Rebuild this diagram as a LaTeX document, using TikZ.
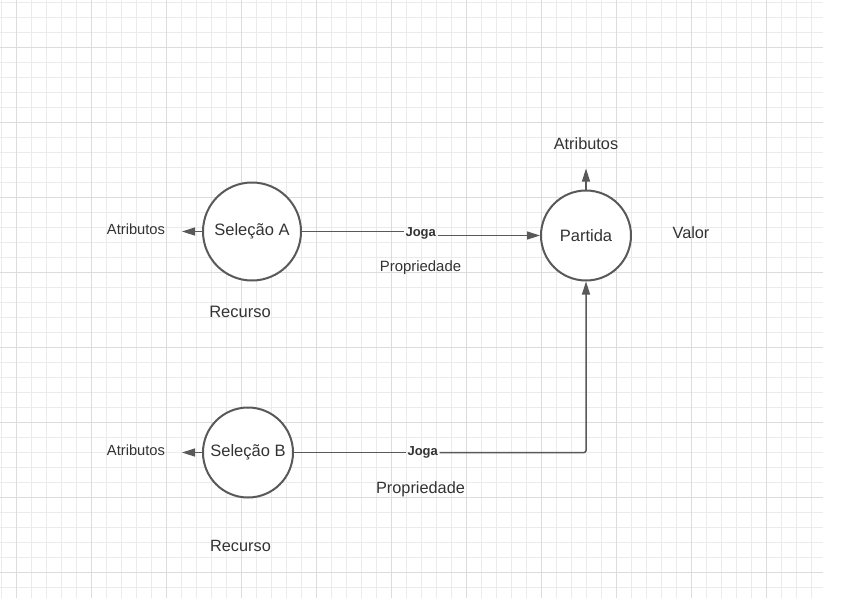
\documentclass[tikz,border=0pt]{standalone}
\usepackage{fontspec}
\setmainfont{Liberation Sans}
\usetikzlibrary{arrows.meta}
\definecolor{gridminor}{HTML}{EBEBEB}
\definecolor{gridmajor}{HTML}{DCDCDC}
\definecolor{ink}{HTML}{595959}
\definecolor{txt}{HTML}{333333}
\tikzset{
  circ/.style={circle,draw=ink,line width=2pt,fill=white,inner sep=0pt,text=txt,font=\fontsize{16.5}{19}\selectfont},
  conn/.style={draw=ink,line width=1.5pt},
  arr/.style={conn,-{Triangle[length=13pt,width=8pt]}},
  lbl/.style={text=txt,inner sep=0pt,font=\fontsize{16.3}{19}\selectfont},
  smalllbl/.style={text=txt,inner sep=0pt,font=\fontsize{14.7}{17}\selectfont},
  joga/.style={text=txt,inner sep=1.5pt,font=\fontsize{13}{15}\selectfont\bfseries}
}
\begin{document}
\begin{tikzpicture}[x=1pt,y=-1pt]
\useasboundingbox (0,0) rectangle (844,606);
\fill[white] (0,0) rectangle (844,606);
% grid
\foreach \i in {0,...,54} {
  \pgfmathsetmacro{\xx}{1+15*\i}
  \draw[gridminor,line width=1pt] (\xx,0) -- (\xx,598);
}
\foreach \i in {0,...,39} {
  \pgfmathsetmacro{\yy}{2+15*\i}
  \draw[gridminor,line width=1pt] (0,\yy) -- (823,\yy);
}
\foreach \i in {0,...,10} {
  \pgfmathsetmacro{\xx}{16+75*\i}
  \draw[gridmajor,line width=1pt] (\xx,0) -- (\xx,598);
}
\foreach \i in {0,...,7} {
  \pgfmathsetmacro{\yy}{47+75*\i}
  \draw[gridmajor,line width=1pt] (0,\yy) -- (823,\yy);
}
% nodes
\node[circ,minimum size=98pt] (A) at (252,231.5) {Seleção A};
\node[circ,minimum size=90pt] (P) at (586,235.5) {Partida};
\node[circ,minimum size=90pt] (B) at (248,452.5) {Seleção B};

\node[smalllbl] (attA) at (136,229.5) {Atributos};
\node[smalllbl] (attB) at (136,450.5) {Atributos};
\node[lbl] (attP) at (586,143.5) {Atributos};
\node[lbl] (valor) at (691,233) {Valor};
\node[smalllbl,font=\fontsize{14.9}{17}\selectfont] (propA) at (420.5,267.5) {Propriedade};
\node[lbl] (propB) at (420.5,489.5) {Propriedade};
\node[lbl,font=\fontsize{16.5}{19}\selectfont] (recA) at (240,312) {Recurso};
\node[lbl] (recB) at (240.5,546) {Recurso};
\node[joga] (jogaA) at (420.7,233.5) {Joga};
\node[joga] (jogaB) at (422.7,452.5) {Joga};

\coordinate (tipA) at (182,231.5);
\coordinate (tipB) at (182,452.5);
\coordinate (tipP) at (586,168.5);

% connectors
\draw[arr] (A.west) -- (tipA);
\draw[arr] (B.west) -- (tipB);
\draw[arr] (P.north) -- (tipP);
\draw[conn] (A.east) -- (A.east -| jogaA.west);
\draw[arr] (jogaA.east |- P.west) -- (P.west);
\draw[conn] (B.east) -- (B.east -| jogaB.west);
\draw[arr,rounded corners=2pt] (jogaB.east |- B.east) -- (P.south |- B.east) -- (P.south);
\end{tikzpicture}
\end{document}
